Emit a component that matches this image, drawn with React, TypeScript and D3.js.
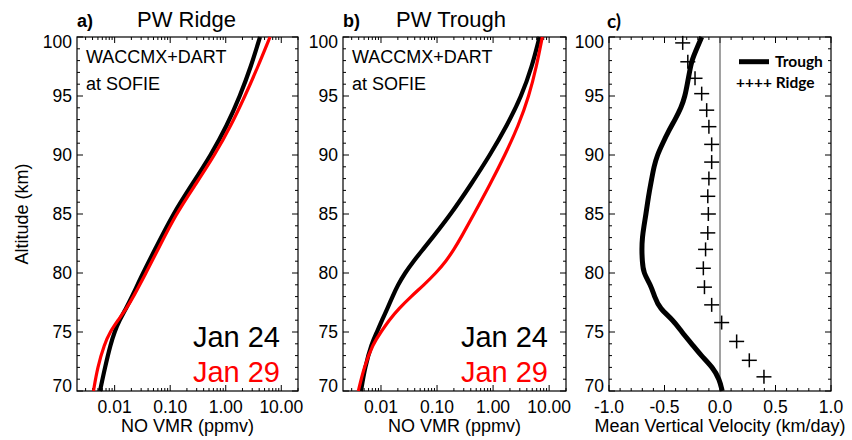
import React from "react";
import * as d3 from "d3";

// altitude grids (km)
const altRidge = [70, 72, 74, 75, 76, 77, 78, 80, 82, 85, 87.5, 90, 92.5, 95, 97.5, 100];
const ridgeJan24 = [0.00545, 0.0067, 0.0085, 0.00994, 0.01223, 0.01603, 0.02054, 0.0324, 0.0533, 0.1125, 0.247, 0.543, 1.054, 1.807, 2.85, 4.14];
const ridgeJan29 = [0.00416, 0.00491, 0.00657, 0.00825, 0.0115, 0.01635, 0.02186, 0.0367, 0.0603, 0.1272, 0.2857, 0.634, 1.245, 2.225, 3.814, 6.27];

const altTrough = [70, 72, 74, 75, 76, 77, 78, 79, 80, 81, 82, 83, 85, 87.5, 90, 92.5, 95, 97.5, 100];
const troughJan24 = [0.0044, 0.00518, 0.00677, 0.00848, 0.01042, 0.01306, 0.01604, 0.0201, 0.0268, 0.038, 0.0562, 0.083, 0.1774, 0.4036, 0.881, 1.772, 3.215, 4.95, 6.73];
const troughJan29 = [0.00394, 0.00497, 0.0072, 0.01, 0.0139, 0.021, 0.0343, 0.0585, 0.0958, 0.1445, 0.2007, 0.2676, 0.4565, 0.881, 1.632, 2.842, 4.375, 5.955, 7.555];

// mean vertical velocity (km/day)
const altVel = [70, 71, 72, 73, 74, 75, 76, 77, 78, 79, 80, 81, 82, 83, 84, 85, 86, 87, 88, 89, 90, 91, 92, 93, 94, 95, 96, 97, 98, 99, 100];
const velTrough = [0.02, -0.005, -0.065, -0.17, -0.255, -0.345, -0.42, -0.545, -0.59, -0.625, -0.69, -0.7, -0.705, -0.7, -0.685, -0.667, -0.652, -0.635, -0.615, -0.595, -0.565, -0.516, -0.465, -0.405, -0.35, -0.315, -0.295, -0.275, -0.255, -0.21, -0.165];
const altRidgeVel = [99.5, 97.9, 96.5, 95.2, 93.8, 92.4, 90.9, 89.4, 88.0, 86.5, 85.0, 83.4, 82.0, 80.4, 78.8, 77.3, 75.8, 74.2, 72.6, 71.2];
const velRidge = [-0.336, -0.29, -0.225, -0.165, -0.12, -0.1, -0.075, -0.075, -0.1, -0.11, -0.105, -0.11, -0.13, -0.15, -0.14, -0.075, 0.015, 0.15, 0.264, 0.396];

const yTicks = [70, 75, 80, 85, 90, 95, 100];
const logTicks = [0.01, 0.1, 1, 10];
const logLabels = ["0.01", "0.10", "1.00", "10.00"];
const velTicks = [-1, -0.5, 0, 0.5, 1];
const velLabels = ["-1.0", "-0.5", "0.0", "0.5", "1.0"];

const FONT = "'Liberation Sans', Arial, Helvetica, sans-serif";
const TOP = 37;
const BOTTOM = 391;

const y = d3.scaleLinear().domain([70, 100]).range([BOTTOM, TOP]);

const Frame = ({ x0, x1, xTickList }) => {
  const minorY = d3.range(70, 101, 1);
  return (
    <g stroke="#000" strokeWidth={1}>
      <rect x={x0} y={TOP} width={x1 - x0} height={BOTTOM - TOP} fill="none" strokeWidth={1.2} />
      {minorY.map((v) => {
        const len = v % 5 === 0 ? 6 : 3;
        return (
          <g key={"y" + v}>
            <line x1={x0} x2={x0 + len} y1={y(v)} y2={y(v)} />
            <line x1={x1} x2={x1 - len} y1={y(v)} y2={y(v)} />
          </g>
        );
      })}
      {xTickList.map((t, i) => (
        <g key={"x" + i}>
          <line x1={t.x} x2={t.x} y1={BOTTOM} y2={BOTTOM - t.len} />
          <line x1={t.x} x2={t.x} y1={TOP} y2={TOP + t.len} />
        </g>
      ))}
    </g>
  );
};

const YLabels = ({ x0 }) => (
  <g fontFamily={FONT} fontSize={17.5} textAnchor="end">
    {yTicks.map((v) => {
      const yy = Math.min(Math.max(y(v), TOP + 5), BOTTOM - 5);
      return (
        <text key={v} x={x0 - 5} y={yy} dy="0.36em">
          {v}
        </text>
      );
    })}
  </g>
);

const LogPanel = ({ x0, x1, alt, black, red, letter, title, titleX }) => {
  const x = d3.scaleLog().domain([0.0021, 20]).range([x0, x1]);
  const ticks = [];
  for (let e = -3; e <= 1; e++) {
    for (let m = 1; m <= 9; m++) {
      const v = m * Math.pow(10, e);
      if (v >= 0.0021 && v <= 20) ticks.push({ x: x(v), len: m === 1 ? 6 : 3 });
    }
  }
  const line = d3
    .line()
    .x((d) => x(d[0]))
    .y((d) => y(d[1]))
    .curve(d3.curveBasis);
  return (
    <g>
      <Frame x0={x0} x1={x1} xTickList={ticks} />
      <YLabels x0={x0} />
      <g fontFamily={FONT} fontSize={17.5} textAnchor="middle">
        {logTicks.map((v, i) => (
          <text key={v} x={x(v)} y={413}>
            {logLabels[i]}
          </text>
        ))}
      </g>
      <text x={(x0 + x1) / 2} y={432} fontFamily={FONT} fontSize={18} textAnchor="middle">
        NO VMR (ppmv)
      </text>
      <path d={line(black.map((v, i) => [v, alt[i]]))} fill="none" stroke="#000" strokeWidth={4.2} />
      <path d={line(red.map((v, i) => [v, alt[i]]))} fill="none" stroke="#ff0000" strokeWidth={3.2} />
      <text x={x0 + 9} y={63} fontFamily={FONT} fontSize={18}>
        WACCMX+DART
      </text>
      <text x={x0 + 9} y={90} fontFamily={FONT} fontSize={18}>
        at SOFIE
      </text>
      <text x={x1 - 18} y={347} fontFamily={FONT} fontSize={29} textAnchor="end">
        Jan 24
      </text>
      <text x={x1 - 18} y={381.5} fontFamily={FONT} fontSize={29} textAnchor="end" fill="#ff0000">
        Jan 29
      </text>
      <text x={x0} y={27} fontFamily={FONT} fontSize={18} fontWeight="bold">
        {letter}
      </text>
      <text x={titleX} y={27} fontFamily={FONT} fontSize={22}>
        {title}
      </text>
    </g>
  );
};

const VelPanel = ({ x0, x1 }) => {
  const x = d3.scaleLinear().domain([-1, 1]).range([x0, x1]);
  const ticks = d3.range(-10, 11).map((k) => ({ x: x(k / 10), len: k % 5 === 0 ? 6 : 3 }));
  const line = d3
    .line()
    .x((d) => x(d[0]))
    .y((d) => y(d[1]))
    .curve(d3.curveBasis);
  return (
    <g>
      <Frame x0={x0} x1={x1} xTickList={ticks} />
      <YLabels x0={x0} />
      <line x1={x(0)} x2={x(0)} y1={TOP} y2={BOTTOM} stroke="#444" strokeWidth={1} />
      <g fontFamily={FONT} fontSize={17.5} textAnchor="middle">
        {velTicks.map((v, i) => (
          <text key={v} x={x(v)} y={413}>
            {velLabels[i]}
          </text>
        ))}
      </g>
      <text x={(x0 + x1) / 2} y={432} fontFamily={FONT} fontSize={18} textAnchor="middle">
        Mean Vertical Velocity (km/day)
      </text>
      <path d={line(velTrough.map((v, i) => [v, altVel[i]]))} fill="none" stroke="#000" strokeWidth={5} />
      <g stroke="#000" strokeWidth={1.5}>
        {velRidge.map((v, i) => {
          const cx = x(v);
          const cy = y(altRidgeVel[i]);
          return (
            <g key={i}>
              <line x1={cx - 7.5} x2={cx + 7.5} y1={cy} y2={cy} />
              <line x1={cx} x2={cx} y1={cy - 7} y2={cy + 7} />
            </g>
          );
        })}
      </g>
      <line x1={739} x2={769} y1={61.7} y2={61.7} stroke="#000" strokeWidth={5} />
      <text x={775} y={67} fontFamily="Lato, 'Open Sans', sans-serif" fontWeight="bold" fontSize={15.5}>
        Trough
      </text>
      <text x={736} y={88} fontFamily="Lato, 'Open Sans', sans-serif" fontWeight="bold" fontSize={15.5}>
        ++++ Ridge
      </text>
      <text x={x0 - 2} y={28} fontFamily="Lato, 'Open Sans', sans-serif" fontSize={19} fontWeight="bold">
        c)
      </text>
    </g>
  );
};

export default function App() {
  return (
    <svg
      width={852}
      height={440}
      style={{ position: "absolute", left: 0, top: 0, background: "#fff" }}
    >
      <rect width={852} height={440} fill="#fff" />
      <text
        transform="translate(28,214) rotate(-90)"
        fontFamily={FONT}
        fontSize={18}
        textAnchor="middle"
      >
        Altitude (km)
      </text>
      <LogPanel
        x0={77}
        x1={298}
        alt={altRidge}
        black={ridgeJan24}
        red={ridgeJan29}
        letter="a)"
        title="PW Ridge"
        titleX={137}
      />
      <LogPanel
        x0={343}
        x1={566}
        alt={altTrough}
        black={troughJan24}
        red={troughJan29}
        letter="b)"
        title="PW Trough"
        titleX={396}
      />
      <VelPanel x0={609} x1={831} />
    </svg>
  );
}
